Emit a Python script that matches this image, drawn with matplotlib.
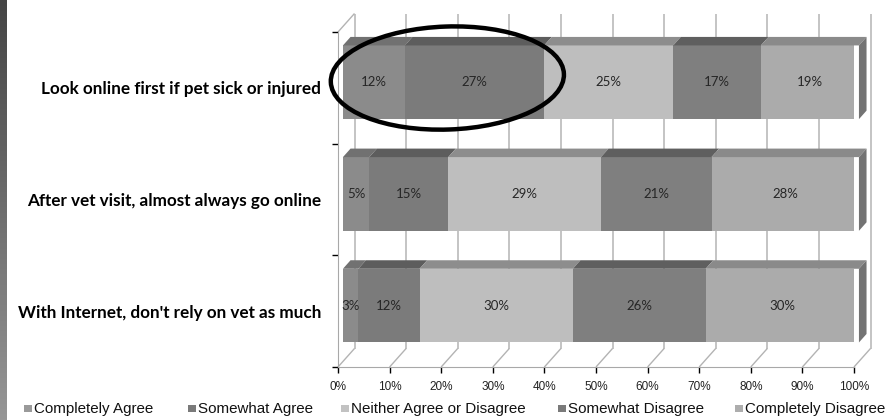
import numpy as np
import matplotlib
matplotlib.use("Agg")
import matplotlib.pyplot as plt
from matplotlib.patches import Polygon, Ellipse, Rectangle
from matplotlib.transforms import Affine2D, IdentityTransform
from matplotlib.colors import LinearSegmentedColormap

# survey statements, top row first
statements = [
    "Look online first if pet sick or injured",
    "After vet visit, almost always go online",
    "With Internet, don't rely on vet as much",
]
responses = ["Completely Agree", "Somewhat Agree", "Neither Agree or Disagree",
             "Somewhat Disagree", "Completely Disagree"]

completely_agree = [12, 5, 3]
somewhat_agree = [27, 15, 12]
neither = [25, 29, 30]
somewhat_disagree = [17, 21, 26]
completely_disagree = [19, 28, 30]

x_ticks = [0, 10, 20, 30, 40, 50, 60, 70, 80, 90, 100]
x_tick_labels = [f"{t}%" for t in x_ticks]

front_colors = ["#8b8b8b", "#7b7b7b", "#bebebe", "#7f7f7f", "#ababab"]
top_colors = ["#717171", "#5d5d5d", "#8d8d8d", "#5f5f5f", "#8a8a8a"]
legend_colors = ["#9a9a9a", "#7a7a7a", "#c2c2c2", "#7a7a7a", "#adadad"]
# left pixel of each legend swatch
legend_x = [24, 188, 341, 558, 735]

W, H = 894, 420
fig = plt.figure(figsize=(W / 100, H / 100), dpi=100)

# dark gradient strip down the left edge
strip = fig.add_axes([0, 0, 7 / W, 1])
strip_cmap = LinearSegmentedColormap.from_list("strip", ["#454545", "#969696"])
strip.imshow(np.linspace(0, 1, 256)[:, None], cmap=strip_cmap, aspect="auto")
strip.axis("off")

ax = fig.add_axes([338 / W, 53 / H, 516 / W, 335 / H])
ax.set_xlim(0, 100)
ax.set_ylim(0, 3)
ax.set_autoscale_on(False)

# fake 3d depth: pixel offset of the back wall
DX, DY = 16.5, 18.5
D0, D1 = 0.30, 0.76   # bar front / back depth
bar_h = 0.66
disp = IdentityTransform()


def P(x, y, d):
    px, py = ax.transData.transform((x, y))
    return (px + DX * d, py + DY * d)


def seg(a, b, color, lw=1.0, z=1):
    ax.plot([a[0], b[0]], [a[1], b[1]], color=color, lw=lw,
            transform=disp, clip_on=False, zorder=z, solid_capstyle="butt")


# back wall gridlines and floor lines
for t in x_ticks:
    seg(P(t, 0, 1), P(t, 3, 1), "#c4c4c4", 1.4)
    seg(P(t, 0, 0), P(t, 0, 1), "#b3b3b3", 1.0)
seg(P(0, 3, 0), P(0, 3, 1), "#b3b3b3", 1.0)

for side in ["top", "right"]:
    ax.spines[side].set_visible(False)
for side in ["left", "bottom"]:
    ax.spines[side].set_color("#a8a8a8")

ax.set_xticks(x_ticks, x_tick_labels)
ax.tick_params(axis="x", length=4, width=1, color="black", pad=6,
               labelsize=8.5, labelfontfamily="Liberation Sans", labelcolor="#222222")
row_y = [2.5, 1.5, 0.5]
ax.set_yticks(row_y, statements)
ax.set_yticks([0, 1, 2, 3], minor=True)
ax.tick_params(axis="y", which="major", length=0, pad=12,
               labelsize=12.3, labelfontfamily="Lato")
ax.tick_params(axis="y", which="minor", length=4, width=1, color="black")
for lab in ax.get_yticklabels():
    lab.set_fontweight("bold")

series = [completely_agree, somewhat_agree, neither,
          somewhat_disagree, completely_disagree]
vals = np.array(series, dtype=float)
totals = vals.sum(axis=0)
widths = vals / totals * 100
lefts = np.vstack([np.zeros(len(row_y)), np.cumsum(widths, axis=0)[:-1]])

front_tr = ax.transData + Affine2D().translate(DX * D0, DY * D0)

for i in range(len(series)):
    ax.barh(row_y, widths[i], left=lefts[i], height=bar_h,
            color=front_colors[i], transform=front_tr, zorder=3)
    for j, y in enumerate(row_y):
        l, w = lefts[i][j], widths[i][j]
        yt = y + bar_h / 2
        top = Polygon([P(l, yt, D0), P(l + w, yt, D0), P(l + w, yt, D1), P(l, yt, D1)],
                      closed=True, fc=top_colors[i], ec="none",
                      transform=disp, zorder=3, clip_on=False)
        ax.add_patch(top)
        ax.text(l + w / 2, y, f"{series[i][j]}%", transform=front_tr,
                ha="center", va="center", fontsize=9.5, family="Lato",
                color="#262626", zorder=5)

# right end faces
for y in row_y:
    yb, yt = y - bar_h / 2, y + bar_h / 2
    ax.add_patch(Polygon([P(100, yb, D0), P(100, yt, D0), P(100, yt, D1), P(100, yb, D1)],
                         closed=True, fc="#737373", ec="none",
                         transform=disp, zorder=3, clip_on=False))

# highlight the agree share of the first statement
agree_end = widths[0][0] + widths[1][0]
cx, cy = P(agree_end / 2, row_y[0], (D0 + D1) / 2)
span = P(agree_end, row_y[0], 0)[0] - P(0, row_y[0], 0)[0]
ax.add_patch(Ellipse((cx, cy), span + 32, 103, angle=2, fill=False,
                     ec="black", lw=3.2, transform=disp, zorder=10, clip_on=False))

# legend row along the bottom
for x0, name, c in zip(legend_x, responses, legend_colors):
    fig.patches.append(Rectangle((x0 / W, 8 / H), 7.5 / W, 7.5 / H, fc=c, ec="none",
                                 transform=fig.transFigure, figure=fig))
    fig.text((x0 + 10) / W, 11.5 / H, name, ha="left", va="center",
             family="Liberation Sans", fontsize=10.9, color="#111111")

fig.savefig("out.png", dpi=100)
